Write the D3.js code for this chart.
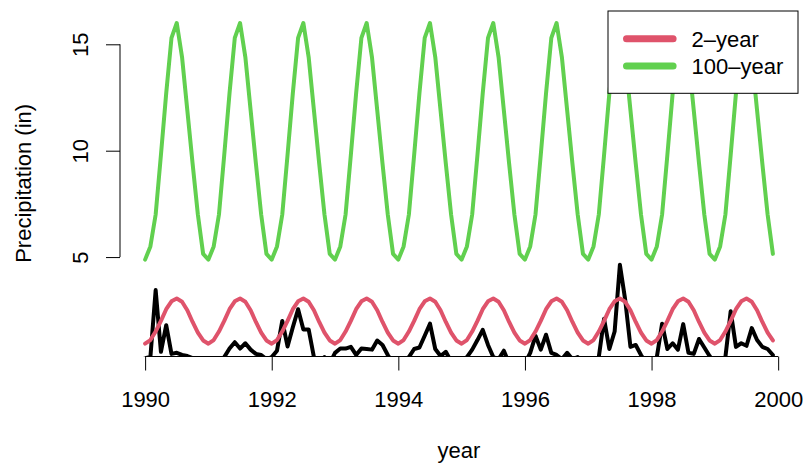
<!DOCTYPE html>
<html lang="en">
<head>
  <meta charset="UTF-8">
  <title>Precipitation</title>
  <style>
    body { margin: 0; background: #fff; }
    text { font-family: "Liberation Sans", Arial, sans-serif; }
  </style>
</head>
<body>
  <script src="https://d3js.org/d3.v7.min.js"></script>
  <div id="chart"></div>

  <script>
    // monthly series, Jan 1990 .. Dec 1999
    const startYear = 1990

    const observed = [
      0.25, 0.3, 3.45, 0.55, 1.8, 0.45, 0.5, 0.4, 0.35, 0.25, 0.2, 0.05,
      0, 0, 0, 0.3, 0.7, 1.0, 0.7, 0.95, 0.65, 0.45, 0.4, 0.2,
      0.3, 0.6, 2.0, 0.8, 1.7, 2.55, 1.6, 1.6, 0.3, 0, 0.3, 0,
      0.5, 0.7, 0.7, 0.78, 0.4, 0.7, 0.68, 0.65, 1.08, 0.87, 0.4, 0,
      0, 0, 0.3, 0.68, 0.75, 1.3, 1.87, 0.68, 0.35, 0.55, 0.1, 0,
      0, 0.3, 0.65, 1.1, 1.58, 0.87, 0.3, 0.2, 0.6, 0, 0, 0,
      0, 0.5, 1.3, 0.65, 1.35, 0.5, 0.4, 0.2, 0.5, 0.2, 0.3, 0,
      0, 0, 0.3, 2.1, 0.68, 1.5, 4.64, 3.0, 0.78, 0.87, 0.4, 0,
      0, 0.3, 1.87, 0.68, 0.95, 0.65, 1.85, 0.5, 0.45, 1.15, 0.75, 0.35,
      0, 0, 0.3, 2.45, 0.78, 0.95, 0.83, 1.66, 1.1, 0.78, 0.68, 0.4
    ]

    const twoYear = [
      0.93, 1.1, 1.5, 2.0, 2.55, 2.92, 3.05, 2.9, 2.5, 1.95, 1.45, 1.08,
      0.93, 1.1, 1.5, 2.0, 2.55, 2.92, 3.05, 2.9, 2.5, 1.95, 1.45, 1.08,
      0.93, 1.1, 1.5, 2.0, 2.55, 2.92, 3.05, 2.9, 2.5, 1.95, 1.45, 1.08,
      0.93, 1.1, 1.5, 2.0, 2.55, 2.92, 3.05, 2.9, 2.5, 1.95, 1.45, 1.08,
      0.93, 1.1, 1.5, 2.0, 2.55, 2.92, 3.05, 2.9, 2.5, 1.95, 1.45, 1.08,
      0.93, 1.1, 1.5, 2.0, 2.55, 2.92, 3.05, 2.9, 2.5, 1.95, 1.45, 1.08,
      0.93, 1.1, 1.5, 2.0, 2.55, 2.92, 3.05, 2.9, 2.5, 1.95, 1.45, 1.08,
      0.93, 1.1, 1.5, 2.0, 2.55, 2.92, 3.05, 2.9, 2.5, 1.95, 1.45, 1.08,
      0.93, 1.1, 1.5, 2.0, 2.55, 2.92, 3.05, 2.9, 2.5, 1.95, 1.45, 1.08,
      0.93, 1.1, 1.5, 2.0, 2.55, 2.92, 3.05, 2.9, 2.5, 1.95, 1.45, 1.08
    ]

    const hundredYear = [
      4.88, 5.5, 7.0, 9.8, 12.7, 15.3, 16.0, 14.4, 11.9, 9.4, 7.0, 5.15,
      4.88, 5.5, 7.0, 9.8, 12.7, 15.3, 16.0, 14.4, 11.9, 9.4, 7.0, 5.15,
      4.88, 5.5, 7.0, 9.8, 12.7, 15.3, 16.0, 14.4, 11.9, 9.4, 7.0, 5.15,
      4.88, 5.5, 7.0, 9.8, 12.7, 15.3, 16.0, 14.4, 11.9, 9.4, 7.0, 5.15,
      4.88, 5.5, 7.0, 9.8, 12.7, 15.3, 16.0, 14.4, 11.9, 9.4, 7.0, 5.15,
      4.88, 5.5, 7.0, 9.8, 12.7, 15.3, 16.0, 14.4, 11.9, 9.4, 7.0, 5.15,
      4.88, 5.5, 7.0, 9.8, 12.7, 15.3, 16.0, 14.4, 11.9, 9.4, 7.0, 5.15,
      4.88, 5.5, 7.0, 9.8, 12.7, 15.3, 16.0, 14.4, 11.9, 9.4, 7.0, 5.15,
      4.88, 5.5, 7.0, 9.8, 12.7, 15.3, 16.0, 14.4, 11.9, 9.4, 7.0, 5.15,
      4.88, 5.5, 7.0, 9.8, 12.7, 15.3, 16.0, 14.4, 11.9, 9.4, 7.0, 5.15
    ]

    const xTicks = [1990, 1992, 1994, 1996, 1998, 2000]
    const yTicks = [5, 10, 15]
    const legendLabels = ['2\u2013year', '100\u2013year']

    const red = '#DF536B', green = '#61D04F'
    const fontSize = 22

    //=====================================================================================
    const svg = d3.select('#chart')
      .append('svg')
      .attr('width', 806)
      .attr('height', 465)

    const plotLeft = 120, plotRight = 798, plotTop = 10.2, plotBottom = 356.5

    const months = observed.map((d, i) => startYear + i / 12)

    // R style 4% padding on both axes
    const xExt = d3.extent(months)
    const xPad = (xExt[1] - xExt[0]) * 0.04
    const x = d3.scaleLinear()
      .domain([xExt[0] - xPad, xExt[1] + xPad])
      .range([plotLeft, plotRight])

    const yExt = d3.extent(twoYear.concat(hundredYear))
    const yPad = (yExt[1] - yExt[0]) * 0.04
    const y = d3.scaleLinear()
      .domain([yExt[0] - yPad, yExt[1] + yPad])
      .range([plotBottom, plotTop])

    svg.append('clipPath')
      .attr('id', 'plotClip')
      .append('rect')
      .attr('x', plotLeft).attr('y', plotTop)
      .attr('width', plotRight - plotLeft).attr('height', plotBottom - plotTop)

    const plotArea = svg.append('g').attr('clip-path', 'url(#plotClip)')

    const line = d3.line()
      .x((d, i) => x(months[i]))
      .y(d => y(d))

    const series = [
      { values: observed, color: 'black' },
      { values: twoYear, color: red },
      { values: hundredYear, color: green }
    ]

    plotArea.selectAll('path')
      .data(series)
      .join('path')
      .attr('d', d => line(d.values))
      .attr('fill', 'none')
      .attr('stroke', d => d.color)
      .attr('stroke-width', 4)
      .attr('stroke-linejoin', 'round')
      .attr('stroke-linecap', 'round')

    // x axis
    const x_ctr = svg.append('g')
      .attr('transform', `translate(0, ${plotBottom})`)
      .call(d3.axisBottom(x).tickValues(xTicks).tickFormat(d3.format('d'))
        .tickSize(14).tickSizeOuter(0).tickPadding(21))
    x_ctr.select('.domain').remove()
    x_ctr.append('line')
      .attr('x1', x(xTicks[0])).attr('x2', x(xTicks[xTicks.length - 1]))
      .attr('stroke', 'black')
    x_ctr.selectAll('text')
      .attr('font-size', fontSize)
      .attr('fill', 'black')

    // y axis
    const y_ctr = svg.append('g')
      .attr('transform', `translate(${plotLeft}, 0)`)
      .call(d3.axisLeft(y).tickValues(yTicks).tickSize(14).tickSizeOuter(0))
    y_ctr.select('.domain').remove()
    y_ctr.append('line')
      .attr('y1', y(yTicks[0])).attr('y2', y(yTicks[yTicks.length - 1]))
      .attr('stroke', 'black')
    y_ctr.selectAll('text')
      .attr('font-size', fontSize)
      .attr('fill', 'black')
      .attr('x', 0).attr('y', 0).attr('dy', null)
      .attr('text-anchor', 'middle')
      .attr('transform', 'translate(-32, 0) rotate(-90)')

    // axis titles
    svg.append('text')
      .attr('x', (plotLeft + plotRight) / 2).attr('y', 458)
      .attr('text-anchor', 'middle')
      .attr('font-size', fontSize)
      .text('year')

    svg.append('text')
      .attr('transform', `translate(31, ${(plotTop + plotBottom) / 2}) rotate(-90)`)
      .attr('text-anchor', 'middle')
      .attr('font-size', fontSize)
      .text('Precipitation (in)')

    // legend, top right
    const legend = svg.append('g')
    legend.append('rect')
      .attr('x', plotRight - 190).attr('y', plotTop + 0.8)
      .attr('width', 190).attr('height', 82.3)
      .attr('fill', 'white').attr('stroke', 'black')

    const legendColors = [red, green]
    legend.selectAll('.item')
      .data(legendLabels)
      .join('g')
      .attr('class', 'item')
      .attr('transform', (d, i) => `translate(${plotRight - 171.5}, ${38.7 + i * 27.3})`)
      .each(function (d, i) {
        const g = d3.select(this)
        g.append('line')
          .attr('x1', 0).attr('x2', 46.6)
          .attr('stroke', legendColors[i])
          .attr('stroke-width', 7)
          .attr('stroke-linecap', 'round')
        g.append('text')
          .attr('x', 65).attr('y', 8)
          .attr('font-size', fontSize)
          .text(d)
      })
  </script>
</body>
</html>
